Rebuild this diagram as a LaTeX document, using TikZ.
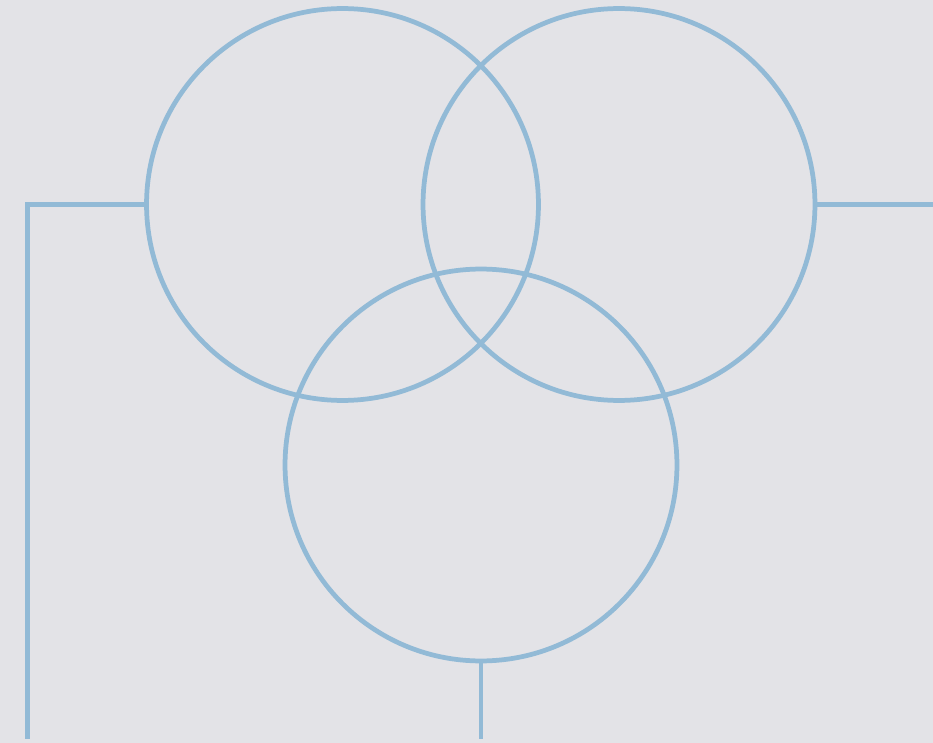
\documentclass[tikz,border=0pt]{standalone}
\usepackage{tikz}
\usetikzlibrary{positioning}
\definecolor{cPaper}{HTML}{E3E3E7}
\definecolor{cRing}{HTML}{92BAD6}
\tikzset{
  ring/.style = {circle, draw=cRing, line width=2.7pt, minimum size=7.84cm, inner sep=0pt},
  lead/.style = {draw=cRing, line width=2.7pt},
}

\begin{document}
\begin{tikzpicture}[x=0.02cm, y=-0.02cm]
  % paper
  \fill[cPaper] (0,0) rectangle (933,743);
  \useasboundingbox (0,0) rectangle (933,743);

  \node[ring] (left)  at (342.5,204.5) {};
  \node[ring] (right) at (619,204.5)   {};
  \node[ring] (low)   at (481,465)     {};

  \coordinate (elbow) at (27.5,204.5);
  \coordinate (lfoot) at (27.5,739);
  \coordinate (rend)  at (933,204.5);
  \coordinate (bfoot) at (481,739);

  \draw[lead] (left.west) -- (elbow) -- (lfoot);
  \draw[lead] (right.east) -- (rend);
  \draw[lead] (low.south) -- (bfoot);
\end{tikzpicture}
\end{document}
